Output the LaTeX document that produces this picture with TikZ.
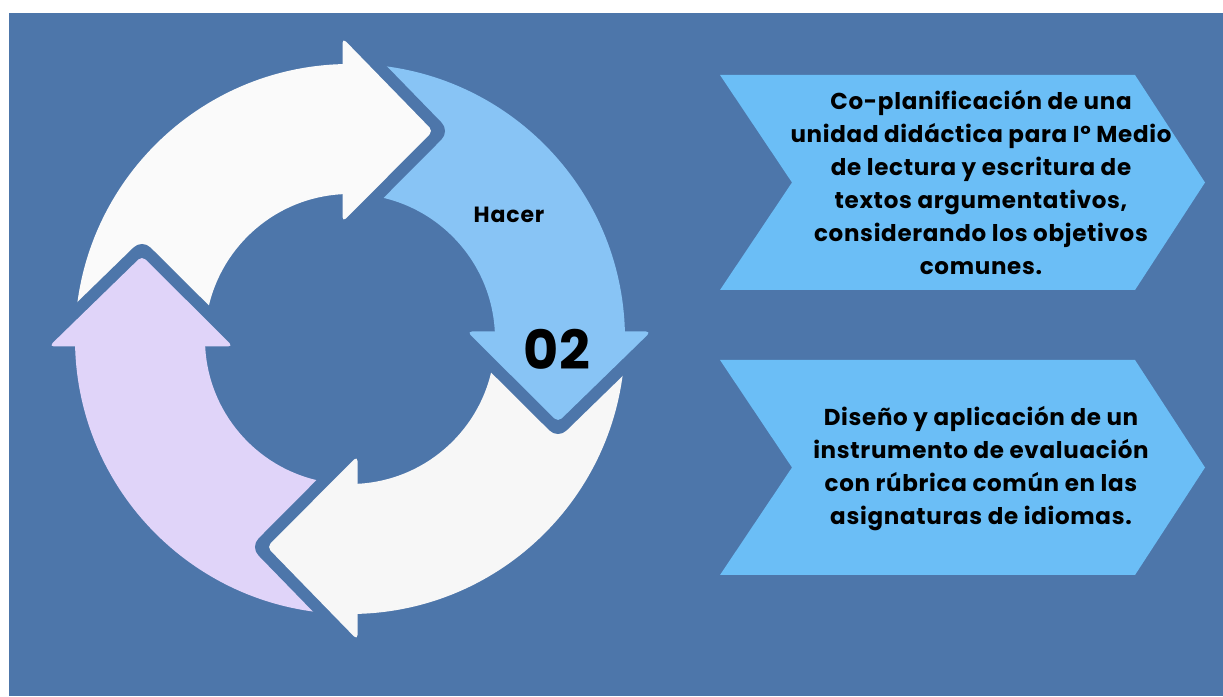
\documentclass[tikz,border=0pt]{standalone}
\usepackage{fontspec}
\setmainfont{Poppins}

\definecolor{bgblue}{HTML}{4D76AA}
\definecolor{chevblue}{HTML}{6BBEF6}
\definecolor{ringblue}{HTML}{88C4F5}
\definecolor{ringlav}{HTML}{E0D4F9}
\definecolor{ringwhite}{HTML}{FAFAFA}
\definecolor{ringgrey}{HTML}{F7F7F7}

\begin{document}
\begin{tikzpicture}[
    x=1pt, y=1pt,
    headcut/.style={draw=bgblue, line width=24pt, line join=round},
    chevron/.style={fill=chevblue},
    steptext/.style={font=\bfseries\fontsize{23}{33}\selectfont\addfontfeature{LetterSpace=3},
        align=center, text=black},
    ringlabel/.style={font=\bfseries\fontsize{22}{26}\selectfont\addfontfeature{LetterSpace=4},
        text=black},
    ringnum/.style={font=\bfseries\fontsize{54}{60}\selectfont, text=black},
]

\def\ro{275}   % outer radius of the ring
\def\ri{145}   % inner radius of the ring
\def\bs{7.5}   % offset of each head base from its axis

% ── Canvas ──────────────────────────────────────────────────
\fill[white] (0, 0) rectangle (1223, 696);
\fill[bgblue] (9, 0) rectangle (1223, 683);

% ── Ring: quarter bodies, then heads cutting the next tail ──
\begin{scope}[shift={(350, 357)}]
\foreach \rot/\col in {0/ringwhite, -90/ringblue, -180/ringgrey, -270/ringlav} {
    \begin{scope}[rotate=\rot]
        \clip ({-\bs + 2}, {-\bs + 2}) rectangle (-300, 300);
        \fill[\col, even odd rule] (0, 0) circle[radius=\ro]
            (0, 0) circle[radius=\ri];
    \end{scope}
}
\foreach \rot/\col in {0/ringwhite, -90/ringblue, -180/ringgrey, -270/ringlav} {
    \begin{scope}[rotate=\rot]
        \draw[headcut] (-\bs, 301) -- (83, 208) -- (-\bs, 117);
        \fill[\col, rounded corners=5] (-\bs, 117) -- (-\bs, 301)
            -- (83, 208) -- cycle;
    \end{scope}
}
\end{scope}

\node[ringlabel] (hacer) at (509, 481) {Hacer};
\node[ringnum] (num) at (557, 347) {02};

% ── Chevrons ────────────────────────────────────────────────
% top edge y of each chevron
\foreach \ty in {621, 336} {
    \fill[chevron] (720, \ty) -- (1135, \ty) -- (1205, {\ty - 107.5})
        -- (1135, {\ty - 215}) -- (720, {\ty - 215})
        -- (792, {\ty - 107.5}) -- cycle;
}

\node[steptext] (plan) at (981, 513) {Co-planificación de una\\
    unidad didáctica para Iº Medio\\
    de lectura y escritura de\\
    textos argumentativos,\\
    considerando los objetivos\\
    comunes.};

\node[steptext] (eval) at (981, 227) {Diseño y aplicación de un\\
    instrumento de evaluación\\
    con rúbrica común en las\\
    asignaturas de idiomas.};

\end{tikzpicture}
\end{document}
